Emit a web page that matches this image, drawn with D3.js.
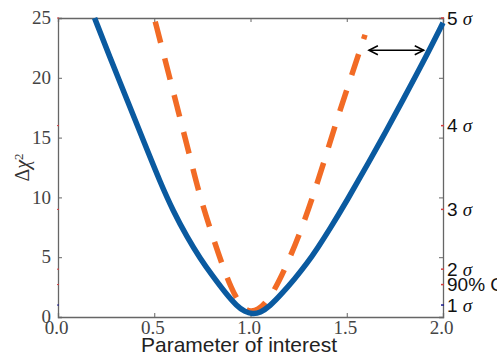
<!DOCTYPE html>
<html>
<head>
<meta charset="utf-8">
<script src="https://cdn.jsdelivr.net/npm/d3@7"></script>
<style>
    body { margin: 0; background: #fff; }
    svg { display: block; }
</style>
</head>
<body>
<svg id="chart" width="497" height="357"></svg>
<script>
// curves: [parameter, delta chi2]
const blueCurve = [
    [0.19, 25.0], [0.28, 21.3], [0.36, 18.1], [0.45, 14.5], [0.53, 11.3],
    [0.60, 8.8], [0.67, 6.7], [0.74, 4.85], [0.80, 3.5], [0.87, 2.0],
    [0.93, 0.9], [0.97, 0.45], [1.01, 0.25], [1.05, 0.35], [1.10, 0.9],
    [1.16, 1.9], [1.23, 3.2], [1.29, 4.4], [1.35, 5.8], [1.41, 7.3],
    [1.50, 9.7], [1.62, 13.1], [1.70, 15.4], [1.79, 18.1], [1.90, 21.4],
    [2.0, 24.6],
];
const orangeCurve = [
    [0.505, 24.7], [0.55, 21.9], [0.62, 17.5], [0.69, 13.1], [0.74, 9.9],
    [0.80, 6.9], [0.85, 4.5], [0.90, 2.4], [0.94, 1.2], [0.97, 0.65],
    [1.0, 0.45], [1.04, 0.6], [1.08, 1.2], [1.127, 2.3], [1.19, 4.4],
    [1.257, 7.0], [1.325, 10.1], [1.39, 13.4], [1.455, 16.8], [1.525, 20.2],
    [1.595, 23.6],
];
const xTicks = [0, 0.5, 1.0, 1.5, 2.0];
const yTicks = [0, 5, 10, 15, 20, 25];
const sigmaLevels = [25, 16, 9, 4, 2.71, 1];
const sigmaLabels = ['5', '4', '3', '2', '90% CL', '1'];
const arrowSpan = [1.615, 1.9];
const arrowLevel = 22.3;

const svg = d3.select('#chart');
const margin = { top: 18, right: 54, bottom: 40, left: 58 };
const W = 497;
const H = 357;

const x = d3.scaleLinear().domain([0, 2]).range([margin.left, W - margin.right]);
const y = d3.scaleLinear().domain([0, 25]).range([H - margin.bottom, margin.top]);

const axisColor = '#666';
const serif = '"Liberation Serif", "DejaVu Serif", serif';
const sans = '"Liberation Sans", Arial, sans-serif';

// inward ticks on every side
const gLeft = svg.append('g').attr('transform', `translate(${margin.left},0)`)
    .call(d3.axisLeft(y).tickValues(yTicks).tickSize(-4).tickPadding(7).tickFormat(d3.format('d')));
const gBottom = svg.append('g').attr('transform', `translate(0,${H - margin.bottom})`)
    .call(d3.axisBottom(x).tickValues(xTicks).tickSize(-4).tickPadding(5).tickFormat(d3.format('.1f')));
const gTop = svg.append('g').attr('transform', `translate(0,${margin.top})`)
    .call(d3.axisTop(x).tickValues(xTicks).tickSize(-4).tickFormat(''));
const gRight = svg.append('g').attr('transform', `translate(${W - margin.right},0)`)
    .call(d3.axisRight(y).tickValues(yTicks).tickSize(-4).tickFormat(''));

[gLeft, gBottom, gTop, gRight].forEach((g) => {
    g.select('.domain').attr('stroke', axisColor).attr('stroke-width', 1.3);
    g.selectAll('.tick line').attr('stroke', axisColor);
    g.selectAll('.tick text')
        .attr('fill', '#444')
        .style('font-family', serif)
        .style('font-size', '19px');
});
gBottom.selectAll('.tick text').attr('dy', '0.62em').attr('dx', '-2');
gLeft.selectAll('.tick text').attr('dy', '0.3em');

// small coloured marks at the sigma levels
sigmaLevels.forEach((v, i) => {
    const col = i === sigmaLevels.length - 1 ? '#1a1a8c' : '#d04040';
    svg.append('line')
        .attr('x1', W - margin.right - 2).attr('x2', W - margin.right + 1)
        .attr('y1', y(v)).attr('y2', y(v))
        .attr('stroke', col).attr('stroke-width', 1.5);
    svg.append('line')
        .attr('x1', margin.left - 1).attr('x2', margin.left + 1)
        .attr('y1', y(v)).attr('y2', y(v))
        .attr('stroke', col).attr('stroke-width', 1);
});

// right-hand sigma labels (the 90% one runs off the edge, as in the original)
const sigmaText = svg.append('g')
    .selectAll('text')
    .data(sigmaLevels)
    .join('text')
    .attr('x', W - margin.right + 4)
    .attr('y', (d) => y(d))
    .attr('dy', '0.36em')
    .attr('fill', '#111')
    .style('font-family', sans)
    .style('font-size', '19px');
sigmaText.each(function (d, i) {
    const t = d3.select(this);
    if (sigmaLabels[i] === '90% CL') {
        t.text(sigmaLabels[i]);
        return;
    }
    t.append('tspan').text(`${sigmaLabels[i]} `);
    t.append('tspan')
        .style('font-family', serif)
        .style('font-style', 'italic')
        .text('σ');
});

const line = d3.line()
    .x((d) => x(d[0]))
    .y((d) => y(d[1]))
    .curve(d3.curveBasis);

svg.append('path')
    .datum(orangeCurve)
    .attr('d', line)
    .attr('fill', 'none')
    .attr('stroke', '#f26b25')
    .attr('stroke-width', 5.5)
    .attr('stroke-dasharray', '22,16');

svg.append('path')
    .datum(blueCurve)
    .attr('d', line)
    .attr('fill', 'none')
    .attr('stroke', '#0a5aa0')
    .attr('stroke-width', 5.5)
    .attr('stroke-linejoin', 'round');

// double-headed arrow
const ax1 = x(arrowSpan[0]);
const ax2 = x(arrowSpan[1]);
const ay = y(arrowLevel);
svg.append('line')
    .attr('x1', ax1).attr('x2', ax2)
    .attr('y1', ay).attr('y2', ay)
    .attr('stroke', '#000').attr('stroke-width', 1.5);
svg.append('path')
    .attr('d', `M${ax1 + 9},${ay - 4.5} L${ax1},${ay} L${ax1 + 9},${ay + 4.5}`)
    .attr('fill', 'none').attr('stroke', '#000').attr('stroke-width', 1.5);
svg.append('path')
    .attr('d', `M${ax2 - 9},${ay - 4.5} L${ax2},${ay} L${ax2 - 9},${ay + 4.5}`)
    .attr('fill', 'none').attr('stroke', '#000').attr('stroke-width', 1.5);

// axis titles
svg.append('text')
    .attr('x', 239)
    .attr('y', H - 5)
    .attr('text-anchor', 'middle')
    .attr('fill', '#222')
    .style('font-family', sans)
    .style('font-size', '21px')
    .text('Parameter of interest');

const yTitle = svg.append('text')
    .attr('transform', `translate(29,${(y(0) + y(25)) / 2}) rotate(-90)`)
    .attr('text-anchor', 'middle')
    .attr('fill', '#333')
    .style('font-family', serif)
    .style('font-size', '20px');
yTitle.append('tspan').text('Δ');
yTitle.append('tspan').style('font-style', 'italic').text('χ');
yTitle.append('tspan').attr('dy', '-0.5em').style('font-size', '13px').text('2');
</script>
</body>
</html>
